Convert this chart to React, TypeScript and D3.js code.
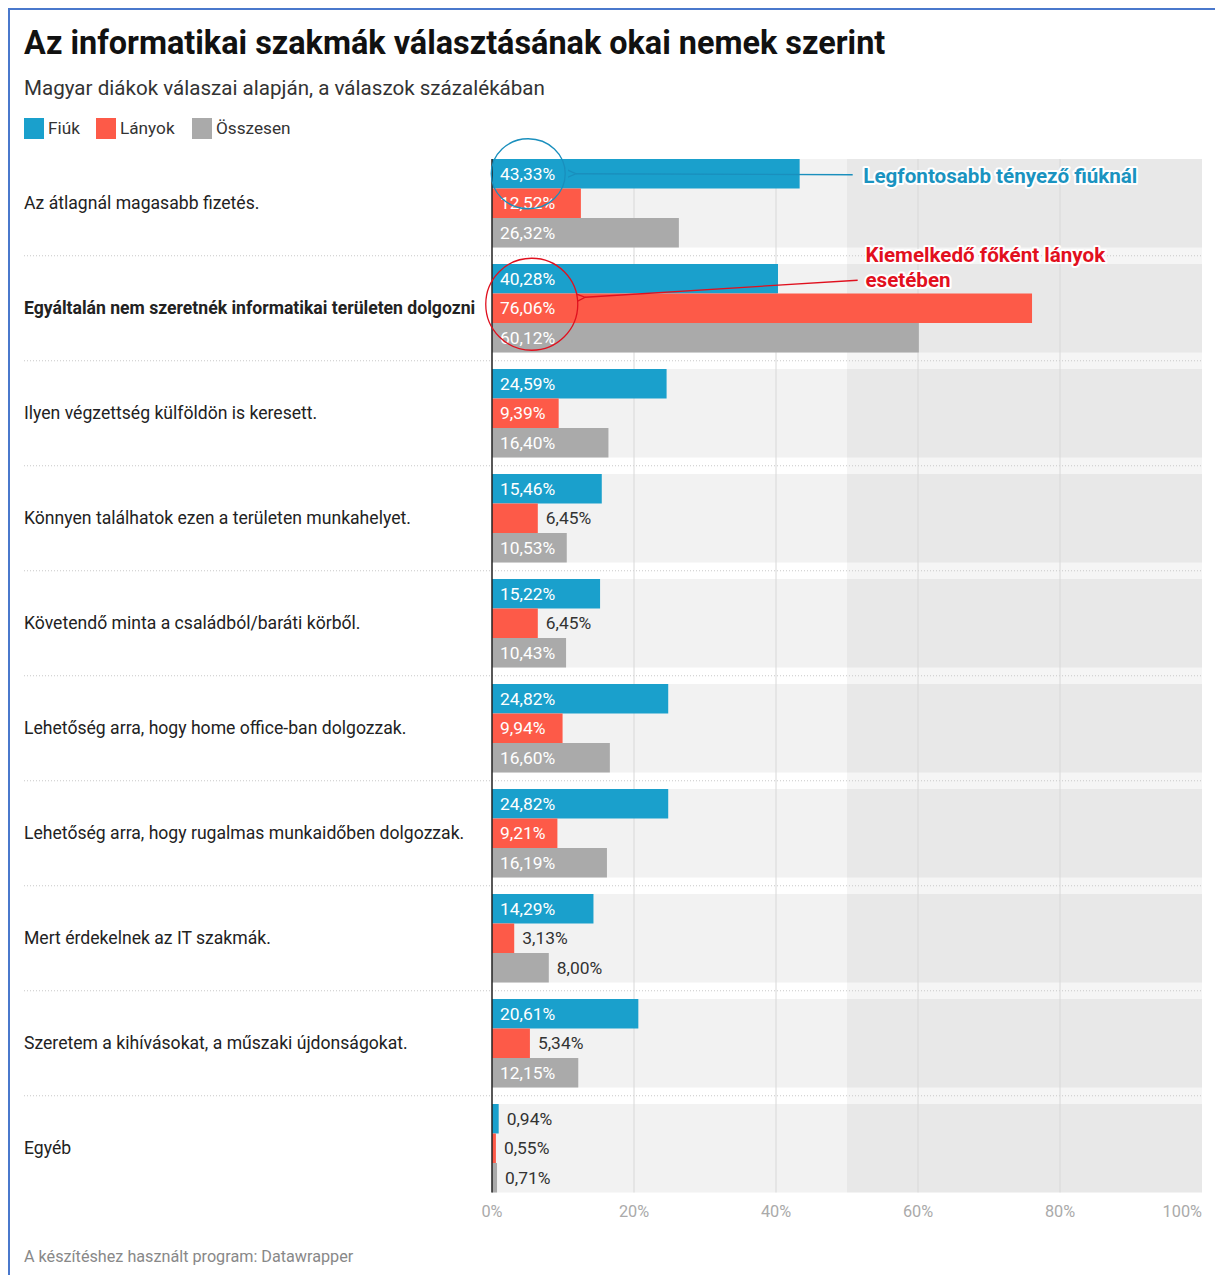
import React from "react";
import * as d3 from "d3";

const categories = [
  "Az átlagnál magasabb fizetés.",
  "Egyáltalán nem szeretnék informatikai területen dolgozni",
  "Ilyen végzettség külföldön is keresett.",
  "Könnyen találhatok ezen a területen munkahelyet.",
  "Követendő minta a családból/baráti körből.",
  "Lehetőség arra, hogy home office-ban dolgozzak.",
  "Lehetőség arra, hogy rugalmas munkaidőben dolgozzak.",
  "Mert érdekelnek az IT szakmák.",
  "Szeretem a kihívásokat, a műszaki újdonságokat.",
  "Egyéb",
];
const boldCategory = "Egyáltalán nem szeretnék informatikai területen dolgozni";

const seriesNames = ["Fiúk", "Lányok", "Összesen"];
const seriesColors = ["#1aa0cc", "#fd5a48", "#aaaaaa"];

const fiuk = [43.33, 40.28, 24.59, 15.46, 15.22, 24.82, 24.82, 14.29, 20.61, 0.94];
const lanyok = [12.52, 76.06, 9.39, 6.45, 6.45, 9.94, 9.21, 3.13, 5.34, 0.55];
const osszesen = [26.32, 60.12, 16.4, 10.53, 10.43, 16.6, 16.19, 8.0, 12.15, 0.71];
const seriesValues = [fiuk, lanyok, osszesen];

const xTicks = [0, 20, 40, 60, 80, 100];

const title = "Az informatikai szakmák választásának okai nemek szerint";
const subtitle = "Magyar diákok válaszai alapján, a válaszok százalékában";
const footer = "A készítéshez használt program: Datawrapper";

const W = 1215;
const H = 1275;
const FONT = "Roboto, 'Noto Sans', sans-serif";
const LABEL_SIZE = 17.4;

const fmt = (v: number) => v.toFixed(2).replace(".", ",") + "%";
const estWidth = (s: string) => {
  let w = 0;
  for (const ch of s) {
    if (ch >= "0" && ch <= "9") w += 0.562 * LABEL_SIZE;
    else if (ch === ",") w += 0.22 * LABEL_SIZE;
    else w += 0.73 * LABEL_SIZE;
  }
  return w;
};

export default function App() {
  const x = d3.scaleLinear().domain([0, 100]).range([492, 1202]);
  const y = d3
    .scaleBand<string>()
    .domain(categories)
    .range([159, 1192.5])
    .paddingInner(16.5 / 105)
    .paddingOuter(0);
  const inner = d3
    .scaleBand<string>()
    .domain(seriesNames)
    .range([0, y.bandwidth()])
    .padding(0);

  const top = y(categories[0])!;
  const bottom = y(categories[categories.length - 1])! + y.bandwidth();
  const step = y.step();

  const blueY = y(categories[0])! + inner(seriesNames[0])! + inner.bandwidth() / 2;
  const redY = y(categories[1])! + inner(seriesNames[1])! + inner.bandwidth() / 2;

  return (
    <svg
      width={W}
      height={H}
      style={{ position: "absolute", left: 0, top: 0, background: "#fff" }}
      fontFamily={FONT}
    >
      <defs>
        <marker id="arrBlue" viewBox="0 0 10 10" refX="1" refY="5" markerWidth="9" markerHeight="9" orient="auto" markerUnits="userSpaceOnUse">
          <path d="M10,1 L1,5 L10,9" fill="none" stroke="#1a8fbd" strokeWidth="1.4" />
        </marker>
        <marker id="arrRed" viewBox="0 0 10 10" refX="1" refY="5" markerWidth="9" markerHeight="9" orient="auto" markerUnits="userSpaceOnUse">
          <path d="M10,1 L1,5 L10,9" fill="none" stroke="#e0101e" strokeWidth="1.4" />
        </marker>
      </defs>
      {/* outer frame */}
      <line x1={8} x2={W} y1={9} y2={9} stroke="#4a78cc" strokeWidth={2} />
      <line x1={9} x2={9} y1={8} y2={H} stroke="#4a78cc" strokeWidth={2} />

      {/* title */}
      <text x={24} y={54} fontSize={32.4} fontWeight={700} fill="#111">{title}</text>
      <text x={24} y={95} fontSize={20.6} fill="#333">{subtitle}</text>

      {/* legend */}
      {(() => {
        const items: JSX.Element[] = [];
        let lx = 24;
        const widths = [72, 96, 0];
        seriesNames.forEach((s, i) => {
          items.push(
            <g key={s}>
              <rect x={lx} y={118} width={20} height={21} fill={seriesColors[i]} />
              <text x={lx + 24} y={134} fontSize={17.2} fill="#333">{s}</text>
            </g>
          );
          lx += widths[i];
        });
        return items;
      })()}

      {/* row backgrounds */}
      {categories.map((c) => (
        <rect key={"bg" + c} x={x(0)} y={y(c)!} width={x(100) - x(0)} height={y.bandwidth()} fill="#f2f2f2" />
      ))}
      {/* range highlight 50-100 */}
      <rect x={x(50)} y={top} width={x(100) - x(50)} height={bottom - top} fill="#000" opacity={0.04} />

      {/* separators */}
      {categories.slice(1).map((c) => (
        <line
          key={"sep" + c}
          x1={24}
          x2={x(100)}
          y1={y(c)! - (step - y.bandwidth()) / 2}
          y2={y(c)! - (step - y.bandwidth()) / 2}
          stroke="#c8c8c8"
          strokeWidth={1}
          strokeDasharray="1,2"
        />
      ))}

      {/* gridlines */}
      {xTicks.filter((t) => t > 0 && t < 100).map((t) => (
        <line key={"g" + t} x1={x(t)} x2={x(t)} y1={top} y2={bottom} stroke="#d8d8d8" strokeWidth={1} />
      ))}

      {/* bars */}
      {categories.map((c, ci) =>
        seriesNames.map((s, si) => {
          const v = seriesValues[si][ci];
          const by = y(c)! + inner(s)!;
          const bw = x(v) - x(0);
          const label = fmt(v);
          const inside = bw > estWidth(label) + 16;
          return (
            <g key={c + s}>
              <rect x={x(0)} y={by} width={bw} height={inner.bandwidth()} fill={seriesColors[si]} />
              <text
                x={inside ? x(0) + 8 : x(v) + 8}
                y={by + inner.bandwidth() / 2}
                dy="0.35em"
                fontSize={LABEL_SIZE}
                fill={inside ? "#fff" : "#333"}
              >
                {label}
              </text>
            </g>
          );
        })
      )}

      {/* y axis line */}
      <line x1={x(0)} x2={x(0)} y1={top} y2={bottom} stroke="#222" strokeWidth={1.5} />

      {/* category labels */}
      {categories.map((c) => (
        <text
          key={"cl" + c}
          x={24}
          y={y(c)! + y.bandwidth() / 2}
          dy="0.35em"
          fontSize={17.6}
          fontWeight={c === boldCategory ? 700 : 400}
          fill="#222"
        >
          {c}
        </text>
      ))}

      {/* x axis tick labels */}
      {xTicks.map((t, i) => (
        <text
          key={"t" + t}
          x={x(t)}
          y={1217}
          fontSize={16.3}
          fill="#aaa"
          textAnchor={i === xTicks.length - 1 ? "end" : "middle"}
        >
          {t + "%"}
        </text>
      ))}

      {/* annotations */}
      <ellipse cx={x(5.1)} cy={blueY} rx={37} ry={35} fill="none" stroke="#1a8fbd" strokeWidth={1.3} />
      <line x1={x(50.8)} x2={x(11.8)} y1={blueY + 1} y2={blueY} stroke="#1a8fbd" strokeWidth={1.3} markerEnd="url(#arrBlue)" />
      <text
        x={x(52.3)}
        y={blueY + 2}
        dy="0.35em"
        fontSize={20.6}
        fontWeight={700}
        fill="#1a93c0"
        stroke="#fff"
        strokeWidth={4}
        paintOrder="stroke"
        strokeLinejoin="round"
      >
        Legfontosabb tényező fiúknál
      </text>

      <ellipse cx={x(5.6)} cy={redY - 4} rx={46} ry={46} fill="none" stroke="#e0101e" strokeWidth={1.3} />
      <line x1={x(51.5)} x2={x(13.1)} y1={redY - 28} y2={redY - 11} stroke="#e0101e" strokeWidth={1.3} markerEnd="url(#arrRed)" />
      <text
        x={x(52.6)}
        y={redY - 46}
        fontSize={20.6}
        fontWeight={700}
        fill="#e2101e"
        stroke="#fff"
        strokeWidth={4}
        paintOrder="stroke"
        strokeLinejoin="round"
      >
        <tspan x={x(52.6)} dy="0">Kiemelkedő főként lányok</tspan>
        <tspan x={x(52.6)} dy="25">esetében</tspan>
      </text>

      {/* footer */}
      <text x={24} y={1262} fontSize={16.2} fill="#888">{footer}</text>
    </svg>
  );
}
